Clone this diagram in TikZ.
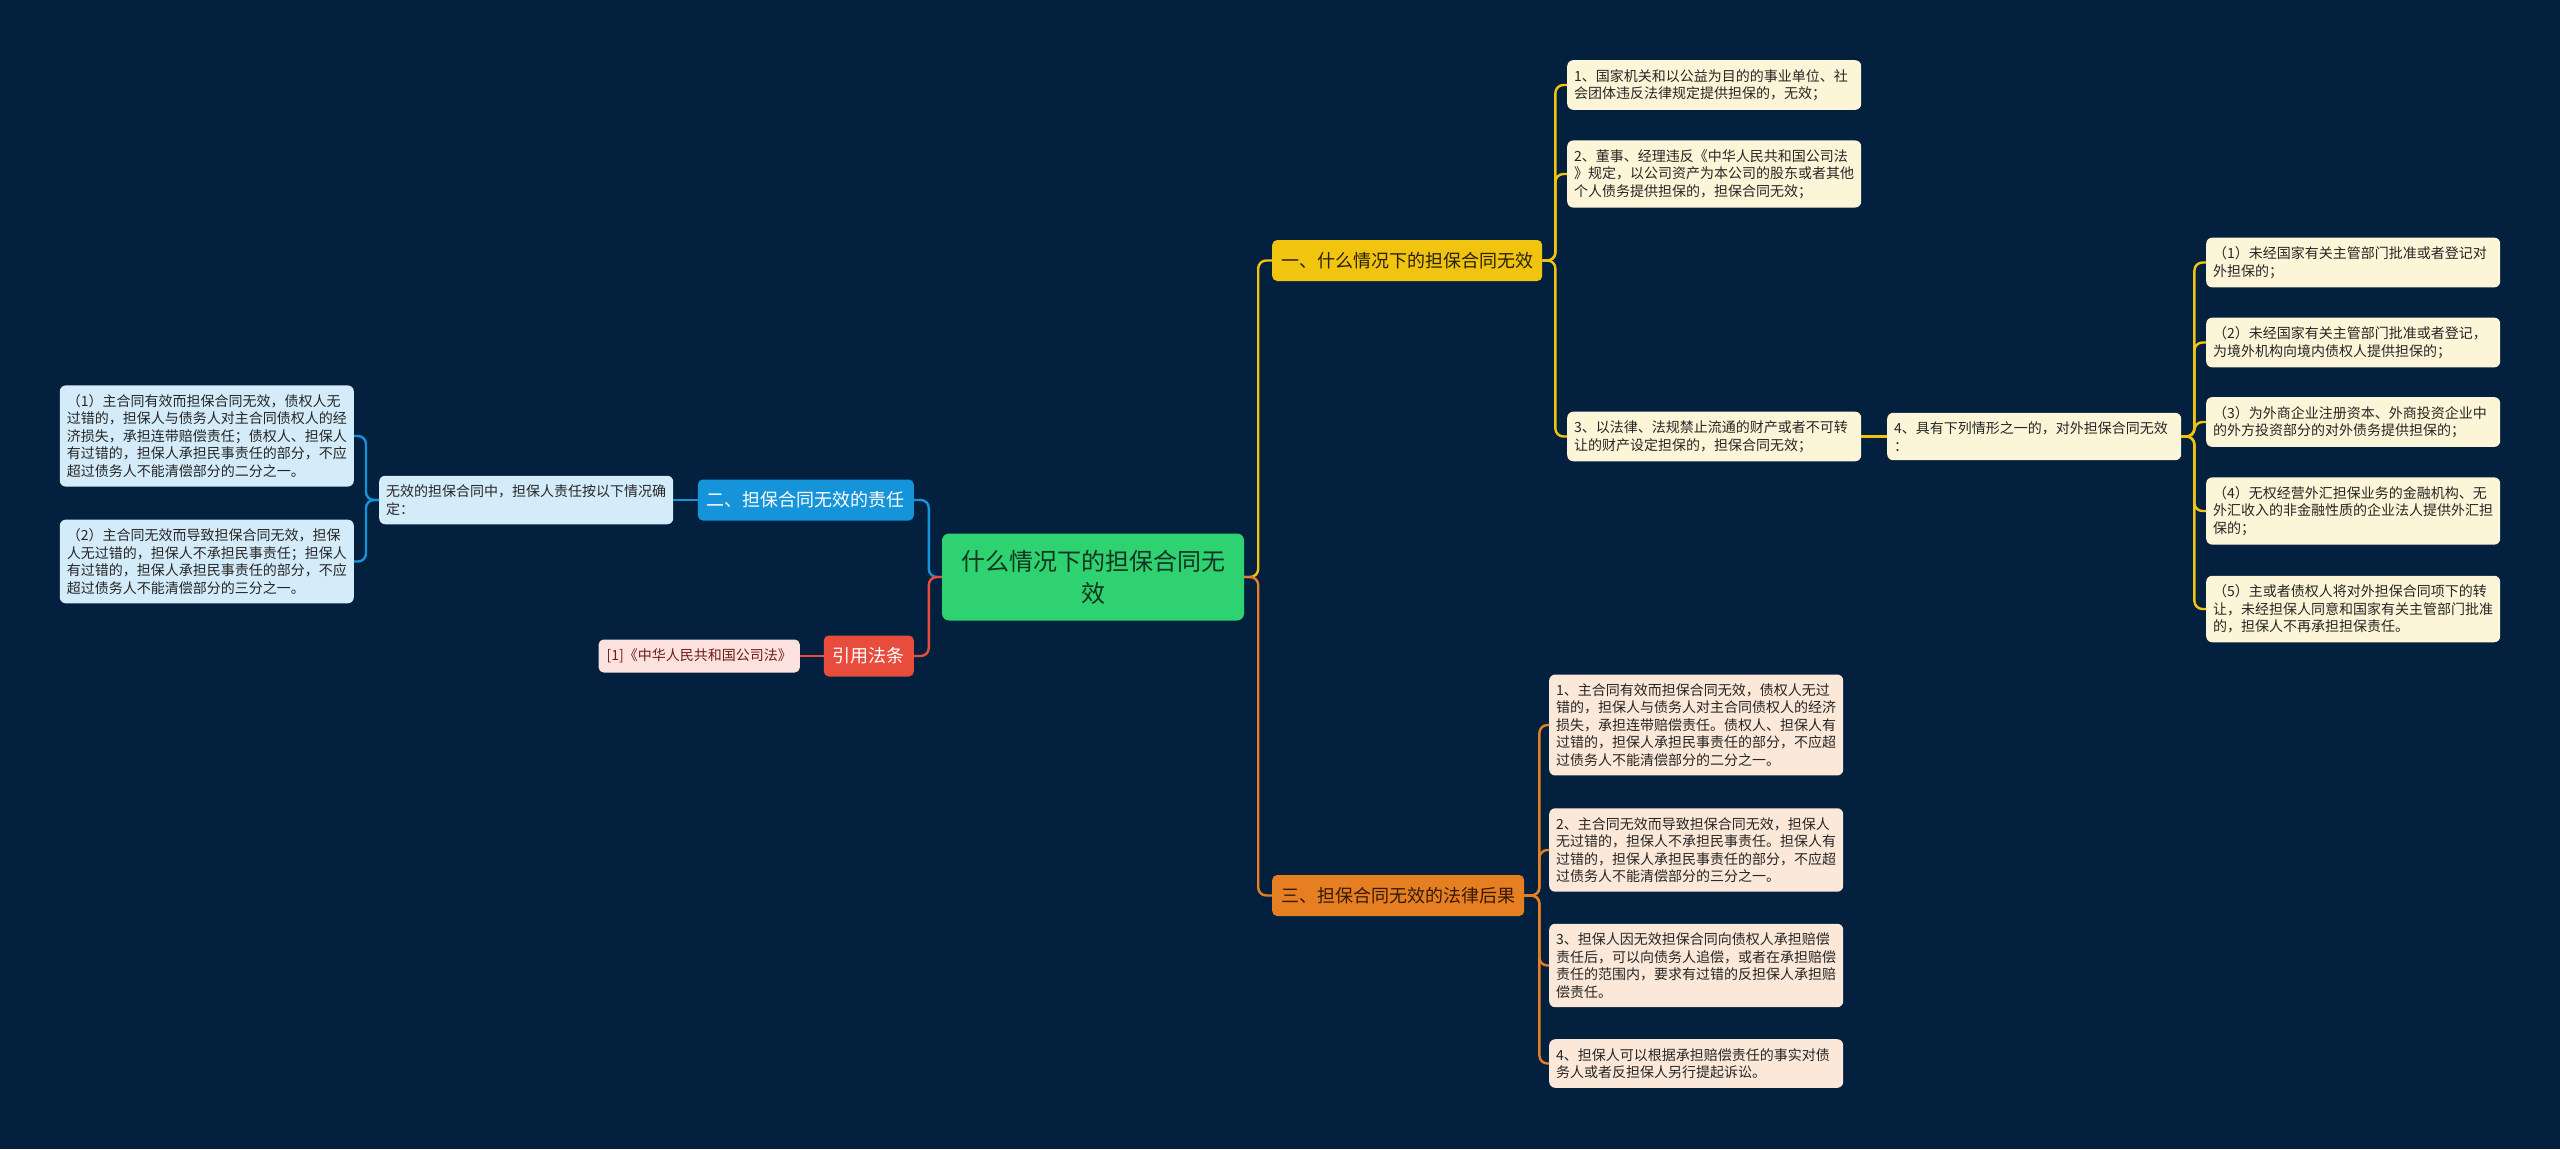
\documentclass[tikz,border=0pt]{standalone}
\usepackage{fontspec}
\newfontfamily\cjk{Noto Sans CJK SC}
\definecolor{night}{RGB}{3,33,62}
\definecolor{mint}{RGB}{46,210,113}
\definecolor{gold}{RGB}{241,196,15}
\definecolor{amber}{RGB}{230,126,34}
\definecolor{sky}{RGB}{22,148,218}
\definecolor{brick}{RGB}{231,76,60}
\definecolor{cream}{RGB}{253,245,215}
\definecolor{peach}{RGB}{251,232,216}
\definecolor{frost}{RGB}{212,236,249}
\definecolor{blush}{RGB}{252,226,222}
\definecolor{ink}{RGB}{38,38,38}

\begin{document}
\begin{tikzpicture}[x=1pt,y=-1pt,font=\cjk,
  leaf/.style={rounded corners=6pt,align=left,text width=280pt,inner xsep=7pt,inner ysep=9pt,text=ink,
    font={\cjk\fontsize{14}{17.5}\selectfont}},
  topic/.style={rounded corners=5pt,inner xsep=9pt,minimum height=41pt,
    font={\cjk\fontsize{18}{22}\selectfont}},
  link/.style={line width=2.4pt,rounded corners=8pt},
  yline/.style={link,gold},
  oline/.style={link,amber},
  bline/.style={link,sky},
  rline/.style={link,brick}]
  \useasboundingbox (0,0) rectangle (2560,1149);
  \fill[night] (0,0) rectangle (2560,1149);

  % centre
  \node[rounded corners=7pt,fill=mint,text={rgb,255:red,18;green,52;blue,32},align=center,
    minimum width=302pt,minimum height=87pt,font={\cjk\fontsize{24}{32}\selectfont}]
    (root) at (1093,577) {什么情况下的担保合同无\\效};

  % topics
  \node[topic,fill=gold,text={rgb,255:red,40;green,32;blue,8},anchor=west] (cat1) at (1272,260.5) {一、什么情况下的担保合同无效};
  \node[topic,fill=amber,text={rgb,255:red,52;green,26;blue,6},anchor=west] (cat3) at (1272,895.5) {三、担保合同无效的法律后果};
  \node[topic,fill=sky,text=white,anchor=east] (cat2) at (914,500) {二、担保合同无效的责任};
  \node[topic,fill=brick,text=white,anchor=east] (law) at (914,656) {引用法条};

  % first topic
  \node[leaf,fill=cream,anchor=west] (y1) at (1567,85) {1、国家机关和以公益为目的的事业单位、社\\会团体违反法律规定提供担保的，无效；};
  \node[leaf,fill=cream,anchor=west] (y2) at (1567,174) {2、董事、经理违反《中华人民共和国公司法\\》规定，以公司资产为本公司的股东或者其他\\个人债务提供担保的，担保合同无效；};
  \node[leaf,fill=cream,anchor=west] (y3) at (1567,436.5) {3、以法律、法规禁止流通的财产或者不可转\\让的财产设定担保的，担保合同无效；};
  \node[leaf,fill=cream,anchor=west] (y4) at (1887,436.5) {4、具有下列情形之一的，对外担保合同无效\\：};
  \node[leaf,fill=cream,anchor=west] (p1) at (2206,262.5) {（1）未经国家有关主管部门批准或者登记对\\外担保的；};
  \node[leaf,fill=cream,anchor=west] (p2) at (2206,342.5) {（2）未经国家有关主管部门批准或者登记，\\为境外机构向境内债权人提供担保的；};
  \node[leaf,fill=cream,anchor=west] (p3) at (2206,422) {（3）为外商企业注册资本、外商投资企业中\\的外方投资部分的对外债务提供担保的；};
  \node[leaf,fill=cream,anchor=west] (p4) at (2206,511) {（4）无权经营外汇担保业务的金融机构、无\\外汇收入的非金融性质的企业法人提供外汇担\\保的；};
  \node[leaf,fill=cream,anchor=west] (p5) at (2206,609) {（5）主或者债权人将对外担保合同项下的转\\让，未经担保人同意和国家有关主管部门批准\\的，担保人不再承担担保责任。};

  % third topic
  \node[leaf,fill=peach,anchor=west] (o1) at (1549,725) {1、主合同有效而担保合同无效，债权人无过\\错的，担保人与债务人对主合同债权人的经济\\损失，承担连带赔偿责任。债权人、担保人有\\过错的，担保人承担民事责任的部分，不应超\\过债务人不能清偿部分的二分之一。};
  \node[leaf,fill=peach,anchor=west] (o2) at (1549,850) {2、主合同无效而导致担保合同无效，担保人\\无过错的，担保人不承担民事责任。担保人有\\过错的，担保人承担民事责任的部分，不应超\\过债务人不能清偿部分的三分之一。};
  \node[leaf,fill=peach,anchor=west] (o3) at (1549,965.5) {3、担保人因无效担保合同向债权人承担赔偿\\责任后，可以向债务人追偿，或者在承担赔偿\\责任的范围内，要求有过错的反担保人承担赔\\偿责任。};
  \node[leaf,fill=peach,anchor=west] (o4) at (1549,1063.5) {4、担保人可以根据承担赔偿责任的事实对债\\务人或者反担保人另行提起诉讼。};

  % second topic
  \node[leaf,fill=frost,anchor=west] (duty) at (379,500) {无效的担保合同中，担保人责任按以下情况确\\定：};
  \node[leaf,fill=frost,anchor=east] (b1) at (354,436) {（1）主合同有效而担保合同无效，债权人无\\过错的，担保人与债务人对主合同债权人的经\\济损失，承担连带赔偿责任；债权人、担保人\\有过错的，担保人承担民事责任的部分，不应\\超过债务人不能清偿部分的二分之一。};
  \node[leaf,fill=frost,anchor=east] (b2) at (354,561.5) {（2）主合同无效而导致担保合同无效，担保\\人无过错的，担保人不承担民事责任；担保人\\有过错的，担保人承担民事责任的部分，不应\\超过债务人不能清偿部分的三分之一。};

  % cited law
  \node[rounded corners=5pt,fill=blush,text={rgb,255:red,110;green,28;blue,20},anchor=east,
    inner xsep=8pt,minimum height=33pt,font={\cjk\fontsize{14}{17.5}\selectfont}]
    (ref) at (800,656) {[1]《中华人民共和国公司法》};

  % connectors
  \draw[yline] (root.east) -- ++(14,0) |- (cat1.west);
  \draw[oline] (root.east) -- ++(14,0) |- (cat3.west);
  \draw[bline] (root.west) -- ++(-13,0) |- (cat2.east);
  \draw[rline] (root.west) -- ++(-13,0) |- (law.east);
  \foreach \n in {y1,y2,y3} \draw[yline] (cat1.east) -- ++(13,0) |- (\n.west);
  \draw[yline] (y3.east) -- (y4.west);
  \foreach \n in {p1,p2,p3,p4,p5} \draw[yline] (y4.east) -- ++(13,0) |- (\n.west);
  \foreach \n in {o1,o2,o3,o4} \draw[oline] (cat3.east) -- ++(15,0) |- (\n.west);
  \draw[bline] (cat2.west) -- (duty.east);
  \foreach \n in {b1,b2} \draw[bline] (duty.west) -- ++(-13,0) |- (\n.east);
  \draw[rline] (law.west) -- (ref.east);
\end{tikzpicture}
\end{document}
